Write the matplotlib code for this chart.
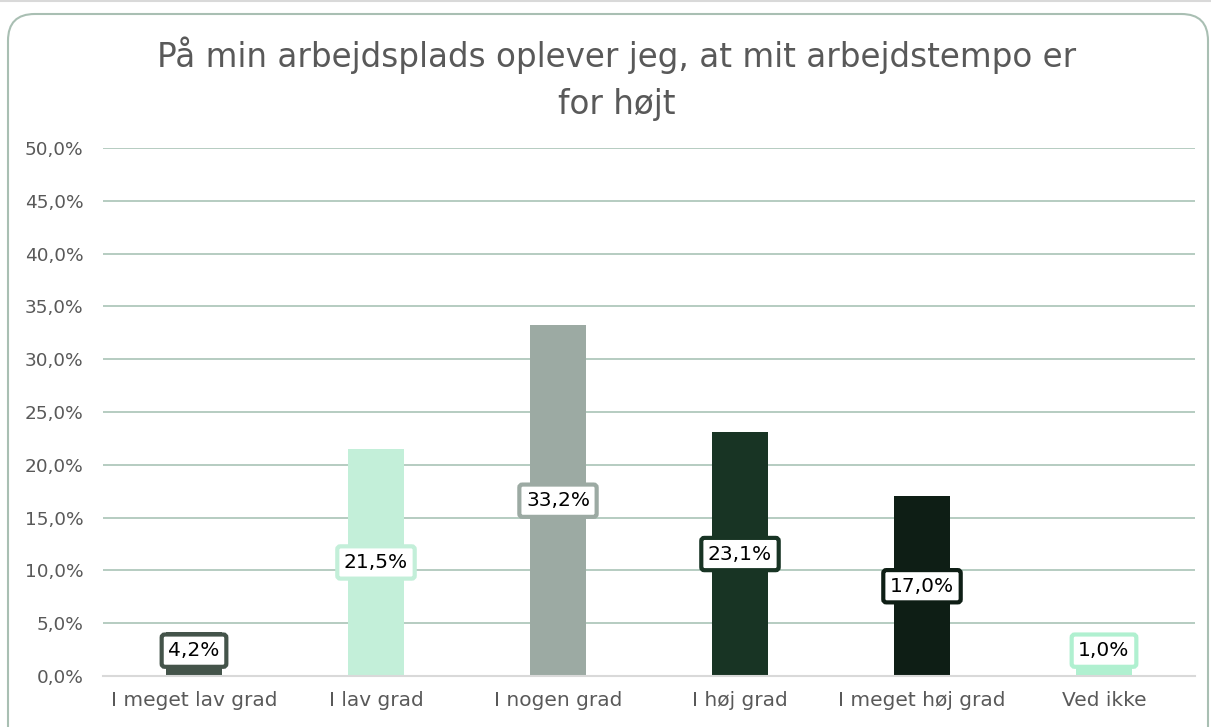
import matplotlib.pyplot as plt
from matplotlib.patches import FancyBboxPatch
from matplotlib.ticker import FuncFormatter

# Données
categories = ['I meget lav grad', 'I lav grad', 'I nogen grad', 'I høj grad', 'I meget høj grad', 'Ved ikke']
values = [4.2, 21.5, 33.2, 23.1, 17.0, 1.0]
colors = ['#44544a', '#c3efd9', '#9caaa3', '#183424', '#0e1e15', '#b0f0d0']

plt.rcParams['font.family'] = ['DejaVu Sans']

fig = plt.figure(figsize=(12.11, 7.27), dpi=100)
ax = fig.add_axes([103 / 1211, 1 - 676 / 727, (1195 - 103) / 1211, (676 - 148) / 727])

# Ligne grise en haut et cadre arrondi du graphique
fig.add_artist(plt.Line2D([0, 1], [0.999, 0.999], transform=fig.transFigure,
                          color='#d9d9d9', linewidth=1.5))
fig.add_artist(FancyBboxPatch((8 / 1211, -0.05), 1200 / 1211, 1.05 - 14 / 727,
                              boxstyle='round,pad=0,rounding_size=0.022',
                              transform=fig.transFigure, fill=False,
                              edgecolor='#a9bfb3', linewidth=1.5,
                              mutation_aspect=1211 / 727))

x = range(len(categories))
ax.bar(x, values, width=0.31, color=colors, zorder=2)

# Étiquettes de données
for i, v in enumerate(values):
    y = max(v / 2, 2.4)
    ax.text(i, y, f'{v:.1f}%'.replace('.', ','), ha='center', va='center',
            fontsize=14.5, color='black', zorder=4,
            bbox=dict(boxstyle='round,pad=0.33,rounding_size=0.15', facecolor='white',
                      edgecolor=colors[i], linewidth=3))

ax.set_ylim(0, 50)
ax.set_xlim(-0.5, len(categories) - 0.5)
ax.set_yticks([i * 5 for i in range(11)])
ax.yaxis.set_major_formatter(FuncFormatter(lambda v, p: f'{v:.1f}%'.replace('.', ',')))
ax.set_xticks(list(x))
ax.set_xticklabels(categories)
ax.tick_params(axis='both', length=0, labelcolor='#595959')
ax.tick_params(axis='x', pad=11, labelsize=14.5)
ax.tick_params(axis='y', pad=14, labelsize=13.3)
ax.grid(axis='y', color='#a9c4b6', linewidth=1.2, zorder=0)
for s in ['top', 'right', 'left']:
    ax.spines[s].set_visible(False)
ax.spines['bottom'].set_color('#d9d9d9')
ax.spines['bottom'].set_linewidth(1.5)

fig.text(617 / 1211, 1 - 79 / 727, 'På min arbejdsplads oplever jeg, at mit arbejdstempo er\nfor højt',
         ha='center', va='center', fontsize=23.5, color='#595959', linespacing=1.55)

fig.savefig('out.png', dpi=100)
